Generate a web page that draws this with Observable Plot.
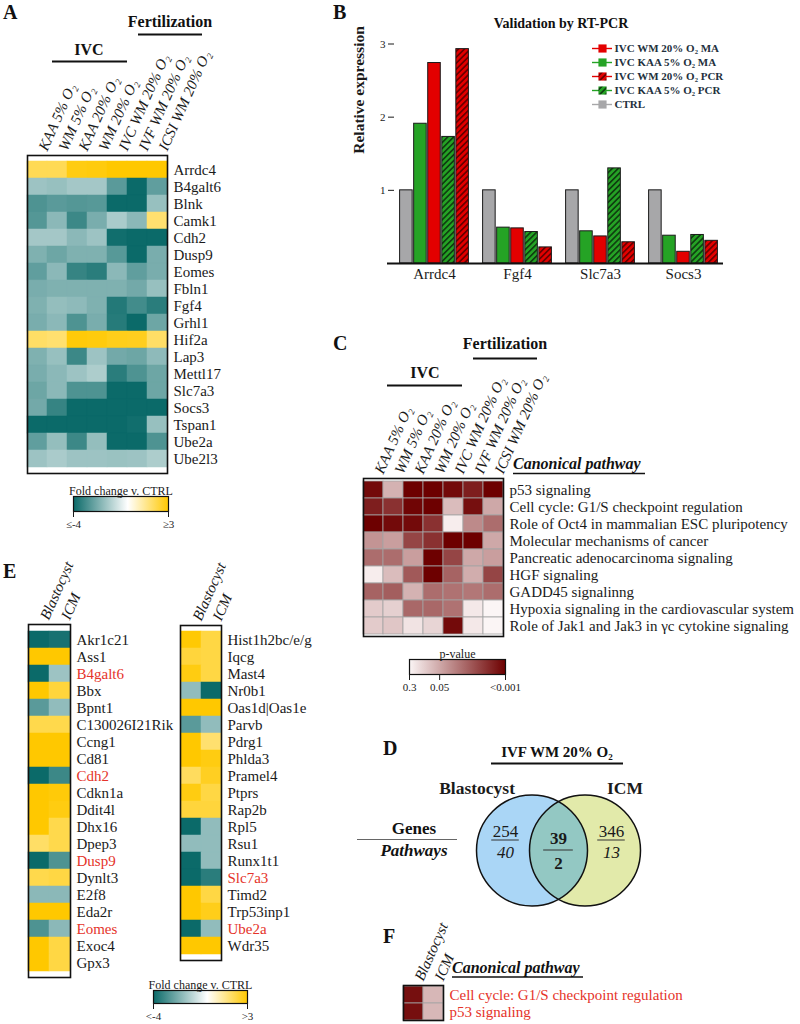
<!DOCTYPE html>
<html><head><meta charset="utf-8">
<script src="https://cdn.jsdelivr.net/npm/d3@7"></script>
<script src="https://cdn.jsdelivr.net/npm/@observablehq/plot@0.6"></script>
<style>
html,body{margin:0;padding:0;background:#fff;}
#fig{position:relative;width:800px;height:1024px;overflow:hidden;background:#fff;}
#fig > svg{position:absolute;overflow:visible;}
</style></head><body><div id="fig"></div>
<script>
// ---------------- DATA ----------------
// Panel A
const colsA = ["KAA 5% O₂","WM 5% O₂","KAA 20% O₂","WM 20% O₂","IVC WM 20% O₂","IVF WM 20% O₂","ICSI WM 20% O₂"];
const genesA = ["Arrdc4","B4galt6","Blnk","Camk1","Cdh2","Dusp9","Eomes","Fbln1","Fgf4","Grhl1","Hif2a","Lap3","Mettl17","Slc7a3","Socs3","Tspan1","Ube2a","Ube2l3"];
const foldA = [
  [2.0, 2.0, 2.8, 2.85, 3, 3, 3],
  [-1.6,-1.7,-1.5,-1.5,-2.7,-4,-2.6],
  [-2.9,-2.7,-2.8,-2.75,-4,-4,-1.7],
  [-2.8,-1.9,-3.2,-2.2,-1.4,-1.9,1.7],
  [-1.5,-1.5,-1.9,-1.6,-3.9,-4,-4],
  [-2.1,-2.4,-2.1,-2.1,-2.75,-4,-2.2],
  [-2.6,-1.9,-3.3,-3.5,-1.9,-2.6,-2.2],
  [-2.2,-2.1,-2.1,-2.1,-2.1,-2.3,-1.7],
  [-2.1,-1.75,-1.85,-2.1,-3.6,-3.1,-3.5],
  [-2.2,-1.9,-2.9,-2.2,-3.55,-4,-2.4],
  [1.8,1.7,2.9,2.85,2.7,2.65,1.8],
  [-2.1,-1.7,-3.2,-1.6,-2.3,-2.4,-1.85],
  [-2.2,-1.9,-1.6,-1.35,-3.5,-2.9,-2.4],
  [-2.4,-1.9,-2.9,-2.9,-4,-4,-2.4],
  [-2.3,-3.3,-4,-4,-4,-4,-4],
  [-4,-4,-4,-4,-4,-3.9,-1.7],
  [-2.6,-1.75,-3.2,-1.75,-4,-4,-2.9],
  [-1.6,-1.4,-1.6,-1.6,-1.65,-1.6,-1.35]
];
const foldTicks = [-4, 3];
const foldTickLabelsA = ["≤-4", "≥3"];
const foldTickLabelsE = ["<-4", ">3"];

// Panel B
const genesB = ["Arrdc4","Fgf4","Slc7a3","Socs3"];
const seriesB = ["CTRL","IVC KAA 5% O₂ MA","IVC WM 20% O₂ MA","IVC KAA 5% O₂ PCR","IVC WM 20% O₂ PCR"];
const ctrlB   = [1, 1, 1, 1];
const kaaMA   = [1.91, 0.49, 0.44, 0.38];
const wmMA    = [2.74, 0.48, 0.37, 0.16];
const kaaPCR  = [1.73, 0.43, 1.30, 0.39];
const wmPCR   = [2.93, 0.22, 0.29, 0.31];
const legendOrderB = ["IVC WM 20% O₂ MA","IVC KAA 5% O₂ MA","IVC WM 20% O₂ PCR","IVC KAA 5% O₂ PCR","CTRL"];
const yTicksB = [1, 2, 3];

// Panel C
const pathwaysC = ["p53 signaling","Cell cycle: G1/S checkpoint regulation","Role of Oct4 in mammalian ESC pluripotency","Molecular mechanisms of cancer","Pancreatic adenocarcinoma signaling","HGF signaling","GADD45 signalinng","Hypoxia signaling in the cardiovascular system","Role of Jak1 and Jak3 in γc cytokine signaling"];
const negLogPC = [
  [2.9,1.2,3,3,2.9,2.7,3],
  [2.7,2.5,2.95,3,1.1,2.85,1.3],
  [3,2.9,2.9,2.5,0.6,1.6,1.9],
  [1.5,1.4,2.3,2.5,3,3,1.3],
  [1.9,1.9,1.4,3,2.3,1.3,1.4],
  [0.6,1.1,2.1,3,2.0,1.25,2.3],
  [2.0,2.05,1.2,1.9,1.85,1.8,1.9],
  [0.95,0.9,1.95,1.95,1.85,0.65,0.5],
  [0.95,1.0,0.7,0.85,2.9,0.65,0.5]
];
const pTicks = [0.3, 0.05, 0.001];
const pTickLabels = ["0.3", "0.05", "<0.001"];

// Panel D
const vennSets = ["Blastocyst","ICM"];
const vennRegions = ["Blastocyst only","Both","ICM only"];
const vennGenes = [254, 39, 346];
const vennPathways = [40, 2, 13];

// Panel E
const colsE = ["Blastocyst","ICM"];
const genesE1 = ["Akr1c21","Ass1","B4galt6","Bbx","Bpnt1","C130026I21Rik","Ccng1","Cd81","Cdh2","Cdkn1a","Ddit4l","Dhx16","Dpep3","Dusp9","Dynlt3","E2f8","Eda2r","Eomes","Exoc4","Gpx3"];
const foldE1 = [[-4,-3.8],[3,3],[-4,-1.6],[3,2.3],[-2.7,-1.8],[2.1,2.1],[3,3],[3,3],[-4,-3.2],[3,2.9],[3,2.8],[3,2.1],[1.8,2.1],[-4,-2.9],[2.1,2.2],[-1.9,-1.9],[3,3],[-2.9,-1.9],[3,2.2],[3,2.2]];
const genesE2 = ["Hist1h2bc/e/g","Iqcg","Mast4","Nr0b1","Oas1d|Oas1e","Parvb","Pdrg1","Phlda3","Pramel4","Ptprs","Rap2b","Rpl5","Rsu1","Runx1t1","Slc7a3","Timd2","Trp53inp1","Ube2a","Wdr35"];
const foldE2 = [[2.95,2.2],[2.3,2.2],[2.8,2.2],[-1.8,-4],[3,3],[-2.7,-1.8],[3,1.7],[3,2.8],[1.9,2.6],[2.8,2.2],[2.3,2.3],[-4,-1.8],[-1.8,-1.8],[-4,-1.8],[-4,-3.5],[3,2.2],[3,2.7],[-4,-1.8],[3,3]];
const highlightedGenes = ["B4galt6","Cdh2","Dusp9","Eomes","Slc7a3","Ube2a"];

// Panel F
const colsF = ["Blastocyst","ICM"];
const pathwaysF = ["Cell cycle: G1/S checkpoint regulation","p53 signaling"];
const negLogPF = [[2.85,1.15],[2.85,1.15]];

// ---------------- STYLE ----------------
const FONT = '"Liberation Serif","Times New Roman",serif';
const INK = "#1a1a1a";
const RED_TXT = "#e5332a";
const baseStyle = {fontFamily: FONT, background: "transparent", color: INK, overflow: "visible"};
const foldColor = {type: "linear", domain: [-4, 0, 3], range: ["#0b6a69", "#ffffff", "#ffc800"], interpolate: "rgb", clamp: true};
const pColor = {type: "linear", domain: [-Math.log10(0.3), 3], range: ["#fbf5f5", "#6d0000"], interpolate: "rgb", clamp: true};

const fig = document.getElementById("fig");
function place(el, left, top) { el.style.left = left + "px"; el.style.top = top + "px"; fig.appendChild(el); return el; }

// shared defs (gradients + hatches)
const defs = d3.select(fig).append("svg").attr("width", 0).attr("height", 0).style("left", "0px").style("top", "0px").append("defs");
function addGradient(id, sc) {
  const g = defs.append("linearGradient").attr("id", id);
  const d0 = sc.domain[0], d1 = sc.domain[sc.domain.length - 1];
  sc.domain.forEach((d, i) => g.append("stop").attr("offset", (d - d0) / (d1 - d0)).attr("stop-color", sc.range[i]));
}
addGradient("gradFold", foldColor);
addGradient("gradP", pColor);
function addHatch(id, bg, stripe) {
  const p = defs.append("pattern").attr("id", id).attr("patternUnits", "userSpaceOnUse")
    .attr("width", 4.2).attr("height", 4.2).attr("patternTransform", "rotate(45)");
  p.append("rect").attr("width", 4.2).attr("height", 4.2).attr("fill", bg);
  p.append("rect").attr("width", 1.7).attr("height", 4.2).attr("fill", stripe);
}
addHatch("hatchG", "#25a325", "#0f3f10");
addHatch("hatchR", "#e30000", "#6a0000");

const seriesFill = {
  "CTRL": "#a7a7a9",
  "IVC KAA 5% O₂ MA": "#25a325",
  "IVC WM 20% O₂ MA": "#e30000",
  "IVC KAA 5% O₂ PCR": "url(#hatchG)",
  "IVC WM 20% O₂ PCR": "url(#hatchR)"
};
const seriesLine = {
  "CTRL": "#a7a7a9",
  "IVC KAA 5% O₂ MA": "#25a325",
  "IVC WM 20% O₂ MA": "#e30000",
  "IVC KAA 5% O₂ PCR": "#25a325",
  "IVC WM 20% O₂ PCR": "#e30000"
};

// ---------------- HELPERS ----------------
function heatmap(o) {
  const cells = o.rows.flatMap((r, i) => o.cols.map((c, j) => ({row: r, col: c, v: o.values[i][j]})));
  const red = o.red || [];
  const cellOpts = o.grid ? {stroke: "#a3a3a3", strokeWidth: 0.8} : {stroke: "v", strokeWidth: 0.5};
  return Plot.plot({
    width: o.width, height: o.height,
    marginLeft: o.ml, marginRight: o.mr, marginTop: o.mt, marginBottom: o.mb,
    x: {type: "band", domain: o.cols, padding: 0, axis: null},
    y: {type: "band", domain: o.rows, padding: 0, axis: null},
    color: o.color,
    style: baseStyle,
    marks: [
      Plot.cell(cells, {x: "col", y: "row", fill: "v", ...cellOpts}),
      Plot.frame({stroke: "#111", strokeWidth: 1.6}),
      Plot.text(o.rows.filter(r => !red.includes(r)), {y: d => d, frameAnchor: "right", textAnchor: "start", dx: 6, fontSize: 15, fill: o.labelColor || INK}),
      Plot.text(o.rows.filter(r => red.includes(r)), {y: d => d, frameAnchor: "right", textAnchor: "start", dx: 6, fontSize: 15, fill: RED_TXT}),
      Plot.text(o.cols, {x: d => d, frameAnchor: "top", textAnchor: "start", rotate: -66, dy: -8, fontStyle: "italic", fontSize: 15, fill: INK})
    ]
  });
}

function colorbar(o) {
  return Plot.plot({
    width: o.width, height: o.height,
    marginLeft: o.ml, marginRight: o.mr, marginTop: o.mt, marginBottom: o.mb,
    x: {domain: [o.scale.domain[0], o.scale.domain[o.scale.domain.length - 1]]},
    style: baseStyle,
    marks: [
      Plot.frame({fill: `url(#${o.grad})`, stroke: "#111", strokeWidth: 1.2}),
      Plot.axisX({ticks: o.ticks, tickFormat: d => o.labels[o.ticks.indexOf(d)], tickSize: 6, tickPadding: 3, fontSize: 11, label: null}),
      Plot.text([o.label], {frameAnchor: "top", dy: -10, fontSize: 12, fill: INK})
    ]
  });
}

// ---------------- PANEL A ----------------
place(heatmap({rows: genesA, cols: colsA, values: foldA, color: foldColor,
  width: 260, height: 478, ml: 27, mr: 93, mt: 155, mb: 5}), 0, 0);
place(colorbar({scale: foldColor, grad: "gradFold", ticks: foldTicks, labels: foldTickLabelsA, label: "Fold change v. CTRL",
  width: 170, height: 66, ml: 33, mr: 42, mt: 26, mb: 25}), 40, 470);

// ---------------- PANEL B ----------------
{
  const W = 460, ML = 54, MR = 77;
  const padIn = 0.156, padOut = 0.053;
  const step = (W - ML - MR) / (genesB.length - padIn + 2 * padOut);
  const bw = step * (1 - padIn) / seriesB.length;
  const seriesVals = [ctrlB, kaaMA, wmMA, kaaPCR, wmPCR];
  const bars = seriesB.map((s, k) => Plot.barY(
    genesB.map((g, i) => ({gene: g, value: seriesVals[k][i]})),
    {x: "gene", y: "value", fill: seriesFill[s], stroke: "#1a1a1a", strokeWidth: 1,
     insetLeft: k * bw + 0.6, insetRight: (seriesB.length - 1 - k) * bw + 0.6}));
  const svgB = Plot.plot({
    width: W, height: 300, marginLeft: ML, marginRight: MR, marginTop: 43.5, marginBottom: 37,
    x: {type: "band", domain: genesB, paddingInner: padIn, paddingOuter: padOut, label: null},
    y: {domain: [0, 3], label: null},
    style: baseStyle,
    marks: [
      ...bars,
      Plot.ruleY([0], {insetLeft: -7, stroke: "#111", strokeWidth: 2}),
      Plot.axisY({ticks: yTicksB, tickSize: 6, tickPadding: 3, fontSize: 11, label: null, tickFormat: d => String(d)}),
      Plot.axisX({tickSize: 0, tickPadding: 5, fontSize: 15, label: null}),
      Plot.text(["Relative expression"], {frameAnchor: "left", rotate: -90, dx: -35, fontWeight: "bold", fontSize: 15.5, fill: INK})
    ]
  });
  place(svgB, 340, 0);

  const svgLeg = Plot.plot({
    width: 175, height: 74, marginLeft: 7, marginRight: 148, marginTop: 1, marginBottom: 1,
    x: {domain: [0, 1], axis: null},
    y: {type: "band", domain: legendOrderB, padding: 0, axis: null},
    color: {type: "identity"},
    style: baseStyle,
    marks: [
      Plot.ruleY(legendOrderB, {y: d => d, stroke: d => seriesLine[d], strokeWidth: 1.4}),
      Plot.dot(legendOrderB, {y: d => d, symbol: "square", r: 4.6, fill: d => seriesFill[d]}),
      Plot.text(legendOrderB, {y: d => d, frameAnchor: "right", textAnchor: "start", dx: 2, fontWeight: "bold", fontSize: 11, fill: "#23303d"})
    ]
  });
  place(svgLeg, 585, 39);
}

// ---------------- PANEL C ----------------
place(heatmap({rows: pathwaysC, cols: colsA, values: negLogPC, color: pColor, grid: true,
  width: 470, height: 272, ml: 33, mr: 297, mt: 108, mb: 6}), 330, 370);
place(colorbar({scale: pColor, grad: "gradP", ticks: pTicks.map(p => -Math.log10(p)), labels: pTickLabels, label: "p-value",
  width: 140, height: 58, ml: 19, mr: 25, mt: 19, mb: 24}), 390, 640);

// ---------------- PANEL D ----------------
{
  const vennData = vennRegions.map((r, i) => ({region: r, pos: i, genes: vennGenes[i], pathways: vennPathways[i]}));
  const side = vennData.filter(d => d.region !== "Both");
  const mid = vennData.filter(d => d.region === "Both");
  const setPos = d => vennSets.indexOf(d) + 0.5;
  const R = 55.5;
  const setFill = {"Blastocyst": "#aad6f6", "ICM": "#e2eaaa"};
  const svgD = Plot.plot({
    width: 330, height: 200, marginLeft: 165, marginRight: 59, marginTop: 65, marginBottom: 25,
    x: {domain: [0, 2], axis: null},
    y: {domain: [-1, 1], axis: null},
    color: {type: "identity"},
    style: baseStyle,
    marks: [
      Plot.dot(vennSets, {x: setPos, y: () => 0, r: R, fill: d => setFill[d]}),
      Plot.dot(vennSets.slice(0, 1), {x: setPos, y: () => 0, r: R, fill: "#93c8c3"}),
      Plot.dot(vennSets, {x: setPos, y: () => 0, r: R, fill: "none", stroke: "#111", strokeWidth: 1.5}),
      Plot.text(vennSets.slice(0, 1), {x: setPos, frameAnchor: "top", dy: -14, dx: -17, textAnchor: "end", fontWeight: "bold", fontSize: 17.5, fill: INK}),
      Plot.text(vennSets.slice(1), {x: setPos, frameAnchor: "top", dy: -14, dx: 22, textAnchor: "start", fontWeight: "bold", fontSize: 17.5, fill: INK}),
      Plot.text(side, {x: "pos", y: () => 0, text: "genes", dy: -19, fontSize: 17, fill: INK}),
      Plot.ruleY(side, {x1: d => d.pos - 0.26, x2: d => d.pos + 0.26, y: () => 0, dy: -10.5, stroke: "#333", strokeWidth: 1}),
      Plot.text(side, {x: "pos", y: () => 0, text: "pathways", dy: 2, fontSize: 17, fontStyle: "italic", fill: INK}),
      Plot.text(mid, {x: "pos", y: () => 0, text: "genes", dy: -12, fontSize: 17, fontWeight: "bold", fill: INK}),
      Plot.ruleY(mid, {x1: d => d.pos - 0.28, x2: d => d.pos + 0.28, y: () => 0, dy: -0.5, stroke: "#333", strokeWidth: 1}),
      Plot.text(mid, {x: "pos", y: () => 0, text: "pathways", dy: 13, fontSize: 17, fontWeight: "bold", fill: INK})
    ]
  });
  // clip the overlap fill to the ICM circle
  const xs = svgD.scale("x"), ys = svgD.scale("y");
  const cp = d3.select(svgD).append("defs").append("clipPath").attr("id", "clipICM");
  cp.append("circle").attr("cx", xs.apply(setPos("ICM"))).attr("cy", ys.apply(0)).attr("r", R);
  const dotGroups = svgD.querySelectorAll('g[aria-label="dot"]');
  if (dotGroups[1]) dotGroups[1].setAttribute("clip-path", "url(#clipICM)");
  place(svgD, 340, 730);
}

// ---------------- PANEL E ----------------
place(heatmap({rows: genesE1, cols: colsE, values: foldE1, color: foldColor, red: highlightedGenes,
  width: 200, height: 440, ml: 28, mr: 130, mt: 84, mb: 3}), 0, 540);
place(heatmap({rows: genesE2, cols: colsE, values: foldE2, color: foldColor, red: highlightedGenes,
  width: 180, height: 423, ml: 30, mr: 109, mt: 85, mb: 3}), 150, 540);
place(colorbar({scale: foldColor, grad: "gradFold", ticks: foldTicks, labels: foldTickLabelsE, label: "Fold change v. CTRL",
  width: 160, height: 60, ml: 33, mr: 33, mt: 26, mb: 21}), 120, 964);

// ---------------- PANEL F ----------------
place(heatmap({rows: pathwaysF, cols: colsF, values: negLogPF, color: pColor, grid: true, labelColor: RED_TXT,
  width: 410, height: 104, ml: 13, mr: 357, mt: 65, mb: 4}), 390, 920);

// ---------------- ANNOTATIONS ----------------
const ov = d3.select(fig).append("svg").attr("width", 800).attr("height", 1024)
  .style("left", "0px").style("top", "0px").style("pointer-events", "none")
  .attr("font-family", FONT);
function txt(x, y, s, {size = 16, weight = "bold", style = "normal", anchor = "start", fill = "#111"} = {}) {
  ov.append("text").attr("x", x).attr("y", y).attr("font-size", size).attr("font-weight", weight)
    .attr("font-style", style).attr("text-anchor", anchor).attr("fill", fill).text(s);
}
function hline(x1, x2, y, w = 2, color = "#111") {
  ov.append("line").attr("x1", x1).attr("x2", x2).attr("y1", y).attr("y2", y).attr("stroke", color).attr("stroke-width", w);
}
// panel letters
txt(3, 19, "A", {size: 20}); txt(333, 19, "B", {size: 20}); txt(333, 350, "C", {size: 20});
txt(383, 755, "D", {size: 20}); txt(3, 578, "E", {size: 20}); txt(383, 943, "F", {size: 20});
// A headers
txt(170, 27, "Fertilization", {anchor: "middle"}); hline(138, 202, 34.5);
txt(89, 55, "IVC", {anchor: "middle"}); hline(52, 127, 61.5);
// B title
txt(561, 28, "Validation by RT-PCR", {anchor: "middle", size: 14});
// C headers
txt(505, 349, "Fertilization", {anchor: "middle"}); hline(473, 537, 358.5);
txt(425, 378, "IVC", {anchor: "middle"}); hline(387, 462, 385.5);
txt(513, 469, "Canonical pathway", {style: "italic", size: 16}); hline(513, 645, 473.5, 1.3);
// D headers
txt(557, 757, "IVF WM 20% O₂", {anchor: "middle", size: 15}); hline(491, 623, 763.5);
txt(414, 834, "Genes", {anchor: "middle", size: 17}); hline(357, 457, 839.5, 1, "#666");
txt(414, 856, "Pathways", {anchor: "middle", size: 17, style: "italic"});
// F header
txt(452, 973, "Canonical pathway", {style: "italic", size: 16}); hline(452, 583, 977, 1.3);
</script></body></html>
